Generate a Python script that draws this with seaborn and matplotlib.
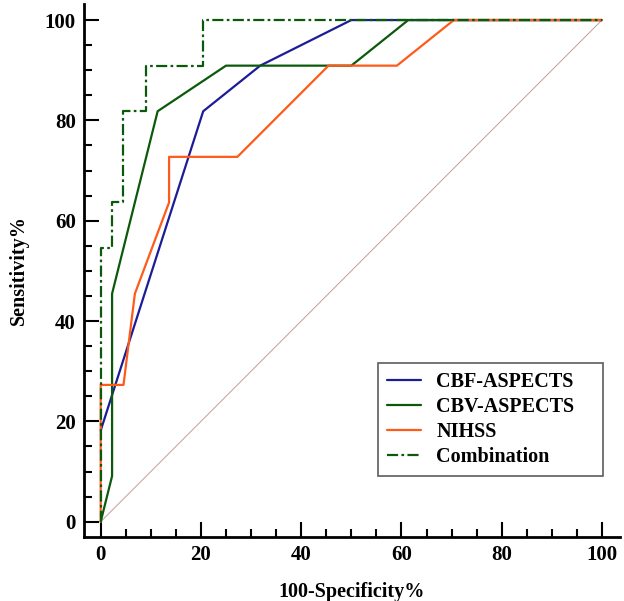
import numpy as np
import pandas as pd
import matplotlib
matplotlib.use("Agg")
import matplotlib.pyplot as plt
import seaborn as sns
from matplotlib.ticker import MultipleLocator

# ROC points (11 positives, 44 negatives)
cbf_x = [0, 20.45, 31.82, 50.0, 100]
cbf_y = [18.18, 81.82, 90.91, 100, 100]

cbv_x = [0, 2.27, 2.27, 11.36, 25.0, 50.0, 61.36, 100]
cbv_y = [0, 9.09, 45.45, 81.82, 90.91, 90.91, 100, 100]

nihss_x = [0, 0, 4.55, 6.82, 13.64, 13.64, 27.27, 45.45, 59.09, 70.45, 100]
nihss_y = [0, 27.27, 27.27, 45.45, 63.64, 72.73, 72.73, 90.91, 90.91, 100, 100]

comb_x = [0, 0, 2.27, 2.27, 4.55, 4.55, 9.09, 9.09, 20.45, 20.45, 100]
comb_y = [0, 54.55, 54.55, 63.64, 63.64, 81.82, 81.82, 90.91, 90.91, 100, 100]

ref_x = [0, 100]
ref_y = [0, 100]

labels = ["CBF-ASPECTS", "CBV-ASPECTS", "NIHSS", "Combination"]
colors = ["#1c1c96", "#0b5a0b", "#ff5a1a", "#0b5a0b"]

sns.set_style("ticks")
plt.rcParams["font.family"] = ["Liberation Serif", "DejaVu Serif"]
plt.rcParams["font.weight"] = "bold"
plt.rcParams["text.color"] = "black"
plt.rcParams["axes.labelcolor"] = "black"
plt.rcParams["xtick.color"] = "black"
plt.rcParams["ytick.color"] = "black"

fig = plt.figure(figsize=(6.24, 6.01), dpi=100)
ax = fig.add_axes([84 / 624, 1 - 537 / 601, 536 / 624, 533 / 601])

# chance line
sns.lineplot(x=ref_x, y=ref_y, color="#c99a9a", linewidth=0.7, ax=ax)

curves = [(cbf_x, cbf_y), (cbv_x, cbv_y), (nihss_x, nihss_y), (comb_x, comb_y)]
for (cx, cy), lab, col in zip(curves, labels, colors):
    df = pd.DataFrame({"x": cx, "y": cy})
    ls = (0, (5, 1.5, 1.2, 1.5)) if lab == "Combination" else "-"
    sns.lineplot(data=df, x="x", y="y", sort=False, estimator=None,
                 color=col, linewidth=1.6, linestyle=ls, label=lab, ax=ax)

ax.set_xlim(-3.33, 103.6)
ax.set_ylim(-3.05, 103.2)
ax.xaxis.set_minor_locator(MultipleLocator(5))
ax.yaxis.set_minor_locator(MultipleLocator(5))
ax.set_xticks(np.arange(0, 101, 20))
ax.set_yticks(np.arange(0, 101, 20))
ax.tick_params(axis="both", which="major", direction="in", length=11,
               width=1.5, color="black", labelcolor="black", labelsize=15, pad=6)
ax.tick_params(axis="both", which="minor", direction="in", length=6,
               width=1.5, color="black")
for t in ax.get_xticklabels() + ax.get_yticklabels():
    t.set_fontweight("bold")

sns.despine(ax=ax)
for s in ["left", "bottom"]:
    ax.spines[s].set_linewidth(2)
    ax.spines[s].set_color("black")

ax.set_xlabel("100-Specificity%", fontsize=14.5, fontweight="bold", labelpad=12,
              color="black")
ax.set_ylabel("Sensitivity%", fontsize=14.5, fontweight="bold", labelpad=11,
              color="black")

leg = ax.legend(loc="upper left",
                bbox_to_anchor=(378 / 624, 1 - 363 / 601, 225 / 624, 0),
                bbox_transform=fig.transFigure, mode="expand",
                borderaxespad=0, fancybox=False, frameon=True, borderpad=0.45,
                handlelength=1.7, handletextpad=0.75, labelspacing=0.25,
                prop={"family": "Liberation Serif", "weight": "bold", "size": 14.5})
leg.get_frame().set_edgecolor("#333333")
leg.get_frame().set_linewidth(1.2)
for t in leg.get_texts():
    t.set_color("black")

fig.savefig("out.png", dpi=100)
